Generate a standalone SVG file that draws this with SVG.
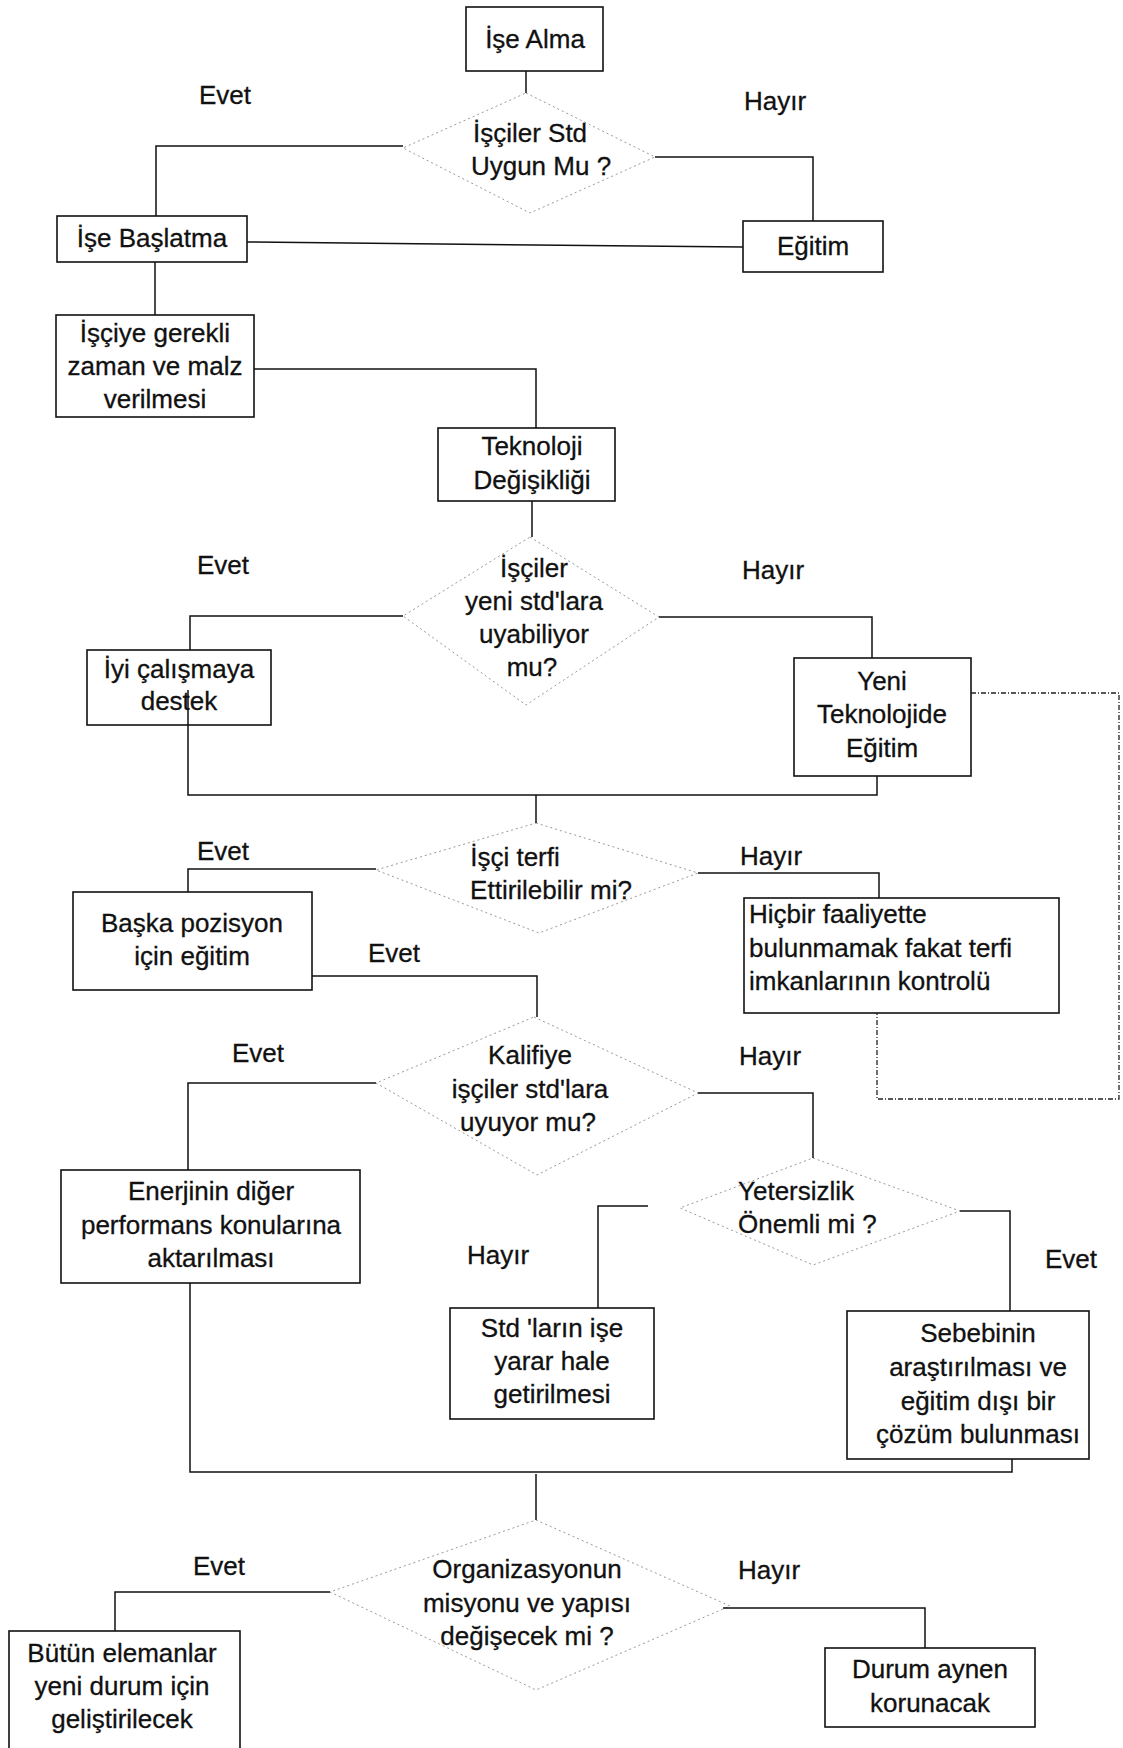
<svg xmlns="http://www.w3.org/2000/svg" width="1123" height="1748" viewBox="0 0 1123 1748">
<style>
.box{fill:#fff;stroke:#111;stroke-width:1.6}
.dia{fill:none;stroke:#999;stroke-width:1;stroke-dasharray:2 3}
.con{fill:none;stroke:#111;stroke-width:1.5}
.dot{fill:none;stroke:#222;stroke-width:1.3;stroke-dasharray:5 2 1 2}
text{font-family:"Liberation Sans",Arial,sans-serif;font-size:26px;fill:#111;stroke:#111;stroke-width:0.3}
.c{text-anchor:middle}
</style>
<rect width="1123" height="1748" fill="#fff"/>
<g id="n-ise-alma"><rect class="box" x="466" y="7" width="137" height="64"/><text class="c" x="535" y="48">İşe Alma</text></g>
<g id="d-iscilerstd"><polygon class="dia" points="526,93 655,157 530,213 403,148"/><text class="c" x="530" y="142">İşçiler Std</text><text class="c" x="541" y="175">Uygun Mu ?</text></g>
<g id="l1"><text class="c" x="225" y="104">Evet</text><text class="c" x="775" y="110">Hayır</text></g>
<g id="n-ise-baslatma"><rect class="box" x="57" y="216" width="190" height="46"/><text class="c" x="152" y="247">İşe Başlatma</text></g>
<g id="n-egitim"><rect class="box" x="743" y="221" width="140" height="51"/><text class="c" x="813" y="255">Eğitim</text></g>
<g id="n-isciye"><rect class="box" x="56" y="315" width="198" height="102"/><text class="c" x="155" y="342">İşçiye gerekli</text><text class="c" x="155" y="375">zaman ve malz</text><text class="c" x="155" y="408">verilmesi</text></g>
<g id="n-teknoloji"><rect class="box" x="438" y="428" width="177" height="73"/><text class="c" x="532" y="455">Teknoloji</text><text class="c" x="532" y="489">Değişikliği</text></g>
<g id="d-yenistd"><polygon class="dia" points="530,537 659,617 526,705 403,616"/><text class="c" x="534" y="577">İşçiler</text><text class="c" x="534" y="610">yeni std'lara</text><text class="c" x="534" y="643">uyabiliyor</text><text class="c" x="532" y="676">mu?</text></g>
<g id="l2"><text class="c" x="223" y="574">Evet</text><text class="c" x="773" y="579">Hayır</text></g>
<g id="n-iyi"><rect class="box" x="87" y="650" width="184" height="75"/><text class="c" x="179" y="678">İyi çalışmaya</text><text class="c" x="179" y="710">destek</text></g>
<g id="n-yeni-tek"><rect class="box" x="794" y="658" width="177" height="118"/><text class="c" x="882" y="690">Yeni</text><text class="c" x="882" y="723">Teknolojide</text><text class="c" x="882" y="757">Eğitim</text></g>
<g id="d-terfi"><polygon class="dia" points="536,823 698,873 539,933 376,870"/><text class="c" x="515" y="866">İşçi terfi</text><text class="c" x="551" y="899">Ettirilebilir mi?</text></g>
<g id="l3"><text class="c" x="223" y="860">Evet</text><text class="c" x="771" y="865">Hayır</text></g>
<g id="n-baska"><rect class="box" x="73" y="892" width="239" height="98"/><text class="c" x="192" y="932">Başka pozisyon</text><text class="c" x="192" y="965">için eğitim</text></g>
<g id="l4"><text class="c" x="394" y="962">Evet</text></g>
<g id="n-hicbir"><rect class="box" x="744" y="898" width="315" height="115"/><text x="749" y="923">Hiçbir faaliyette</text><text x="749" y="957">bulunmamak fakat terfi</text><text x="749" y="990">imkanlarının kontrolü</text></g>
<g id="d-kalifiye"><polygon class="dia" points="534,1017 698,1093 537,1175 376,1083"/><text class="c" x="530" y="1064">Kalifiye</text><text class="c" x="530" y="1098">işçiler std'lara</text><text class="c" x="528" y="1131">uyuyor mu?</text></g>
<g id="l5"><text class="c" x="258" y="1062">Evet</text><text class="c" x="770" y="1065">Hayır</text></g>
<g id="n-enerji"><rect class="box" x="61" y="1170" width="299" height="113"/><text class="c" x="211" y="1200">Enerjinin diğer</text><text class="c" x="211" y="1234">performans konularına</text><text class="c" x="211" y="1267">aktarılması</text></g>
<g id="d-yetersiz"><polygon class="dia" points="813,1158 960,1211 813,1265 680,1208"/><text x="738" y="1200">Yetersizlik</text><text x="738" y="1233">Önemli mi ?</text></g>
<g id="l6"><text class="c" x="498" y="1264">Hayır</text><text class="c" x="1071" y="1268">Evet</text></g>
<g id="n-std"><rect class="box" x="450" y="1308" width="204" height="111"/><text class="c" x="552" y="1337">Std 'ların işe</text><text class="c" x="552" y="1370">yarar hale</text><text class="c" x="552" y="1403">getirilmesi</text></g>
<g id="n-sebep"><rect class="box" x="847" y="1311" width="242" height="148"/><text class="c" x="978" y="1342">Sebebinin</text><text class="c" x="978" y="1376">araştırılması ve</text><text class="c" x="978" y="1410">eğitim dışı bir</text><text class="c" x="978" y="1443">çözüm bulunması</text></g>
<g id="d-org"><polygon class="dia" points="536,1520 730,1606 536,1690 330,1592"/><text class="c" x="527" y="1578">Organizasyonun</text><text class="c" x="527" y="1612">misyonu ve yapısı</text><text class="c" x="527" y="1645">değişecek mi ?</text></g>
<g id="l7"><text class="c" x="219" y="1575">Evet</text><text class="c" x="769" y="1579">Hayır</text></g>
<g id="n-butun"><rect class="box" x="9" y="1631" width="231" height="118"/><text class="c" x="122" y="1662">Bütün elemanlar</text><text class="c" x="122" y="1695">yeni durum için</text><text class="c" x="122" y="1728">geliştirilecek</text></g>
<g id="n-durum"><rect class="box" x="825" y="1648" width="210" height="79"/><text class="c" x="930" y="1678">Durum aynen</text><text class="c" x="930" y="1712">korunacak</text></g>
<g id="connectors">
<path class="con" d="M526,71 V93"/>
<path class="con" d="M403,146 H156 V216"/>
<path class="con" d="M655,157 H813 V221"/>
<path class="con" d="M247,242 L743,247"/>
<path class="con" d="M155,262 V315"/>
<path class="con" d="M254,369 H536 V428"/>
<path class="con" d="M532,501 V537"/>
<path class="con" d="M403,616 H190 V650"/>
<path class="con" d="M659,617 H872 V658"/>
<path class="con" d="M188,690 V795 H877 V776"/>
<path class="con" d="M536,795 V823"/>
<path class="con" d="M376,869 H188 V892"/>
<path class="con" d="M698,873 H879 V898"/>
<path class="con" d="M312,976 H537 V1017"/>
<path class="con" d="M376,1083 H188 V1170"/>
<path class="con" d="M698,1093 H813 V1158"/>
<path class="con" d="M648,1206 H598 V1308"/>
<path class="con" d="M960,1211 H1010 V1311"/>
<path class="con" d="M190,1283 V1472 H1012 V1459"/>
<path class="con" d="M536,1474 V1520"/>
<path class="con" d="M330,1592 H115 V1631"/>
<path class="con" d="M723,1608 H925 V1648"/>
<path class="dot" d="M971,693 H1119 V1099 H877 V1013"/>
</g>
</svg>
